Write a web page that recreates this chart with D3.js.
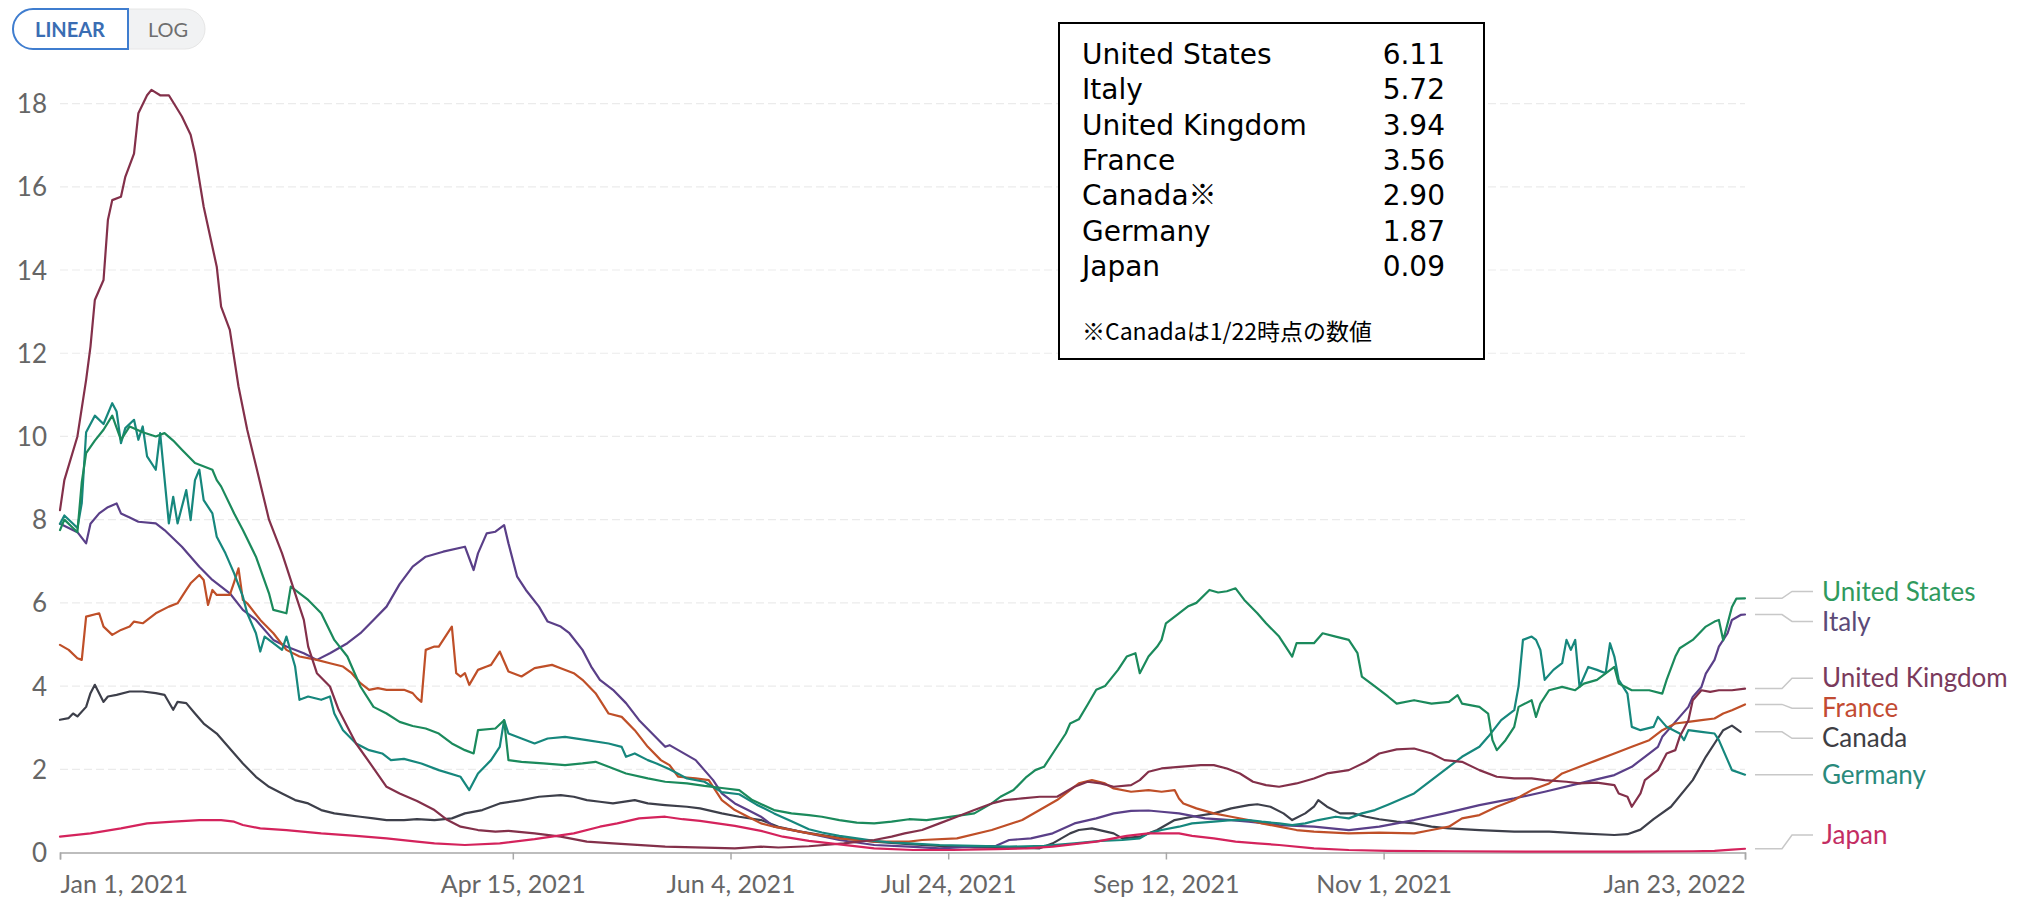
<!DOCTYPE html>
<html><head><meta charset="utf-8">
<script src="https://cdn.jsdelivr.net/npm/d3@7"></script>
<style>
html,body{margin:0;padding:0;background:#fff;}
svg{display:block;}
</style></head>
<body>
<svg id="chart" width="2025" height="901"></svg>
<script>
// ---------- DATA ----------
const startDate = "2021-01-01";
const endDate = "2022-01-23";
const countries = ["United States","Italy","United Kingdom","France","Canada","Germany","Japan"];
const yTicks = [0,2,4,6,8,10,12,14,16,18];
const xTickDates = ["2021-01-01","2021-04-15","2021-06-04","2021-07-24","2021-09-12","2021-11-01","2022-01-23"];
const tableNames = ["United States","Italy","United Kingdom","France","Canada※","Germany","Japan"];
const tableValues = ["6.11","5.72","3.94","3.56","2.90","1.87","0.09"];
const tableNote = "※Canadaは1/22時点の数値";
const scaleButtons = ["LINEAR","LOG"];

// [days since startDate, daily deaths per million (7-day avg)]
const usSeries = [[0,7.75],[1,8.0],[3,7.8],[4,7.7],[5,8.9],[6,9.6],[8,9.9],[10,10.16],[12,10.5],[14,9.92],[16,10.24],[19,10.1],[22,10.0],[24,10.08],[26,9.9],[28,9.68],[31,9.36],[35,9.2],[36,8.95],[37,8.8],[40,8.15],[42,7.75],[45,7.11],[48,6.23],[49,5.83],[52,5.75],[53,6.39],[57,6.07],[60,5.75],[63,5.11],[66,4.71],[69,3.99],[72,3.5],[75,3.34],[78,3.14],[81,3.04],[84,2.98],[87,2.86],[90,2.62],[93,2.46],[95,2.38],[96,2.94],[100,2.98],[102,3.18],[103,2.22],[106,2.18],[111,2.14],[116,2.1],[120,2.14],[123,2.18],[126,2.06],[130,1.9],[135,1.78],[139,1.7],[144,1.66],[148,1.6],[152,1.55],[156,1.5],[159,1.26],[164,1.02],[168,0.94],[172,0.9],[175,0.86],[179,0.78],[183,0.72],[187,0.7],[191,0.74],[195,0.8],[199,0.78],[202,0.82],[206,0.88],[210,0.94],[214,1.18],[216,1.34],[219,1.5],[222,1.82],[224,1.98],[226,2.06],[228,2.38],[231,2.86],[232,3.1],[234,3.2],[236,3.55],[238,3.91],[240,4.0],[243,4.39],[245,4.71],[247,4.79],[248,4.31],[250,4.71],[252,4.95],[253,5.11],[254,5.51],[257,5.75],[259,5.91],[261,6.0],[264,6.31],[266,6.25],[268,6.28],[270,6.35],[272,6.07],[275,5.75],[277,5.51],[280,5.19],[283,4.71],[284,5.03],[288,5.03],[290,5.27],[293,5.19],[296,5.11],[298,4.79],[299,4.23],[302,3.99],[305,3.75],[307,3.58],[311,3.66],[315,3.58],[319,3.62],[321,3.78],[322,3.58],[326,3.5],[328,3.34],[329,2.7],[330,2.46],[332,2.7],[334,3.02],[335,3.5],[338,3.66],[339,3.26],[340,3.58],[342,3.9],[345,3.98],[348,3.9],[350,4.06],[353,4.15],[357,4.46],[358,4.06],[361,3.9],[365,3.9],[368,3.82],[369,4.15],[371,4.71],[372,4.91],[375,5.11],[378,5.43],[380,5.55],[381,5.59],[382,5.1],[384,5.9],[385,6.1],[387,6.11]];

const italySeries = [[0,7.9],[2,7.8],[4,7.7],[6,7.43],[7,7.9],[9,8.15],[11,8.3],[13,8.39],[14,8.15],[16,8.05],[18,7.95],[22,7.91],[24,7.75],[28,7.35],[32,6.87],[35,6.55],[39,6.23],[42,5.83],[45,5.59],[49,5.11],[52,4.95],[56,4.79],[59,4.63],[62,4.79],[66,5.03],[69,5.27],[72,5.59],[75,5.91],[78,6.45],[81,6.87],[84,7.11],[88,7.23],[93,7.35],[95,6.79],[96,7.19],[98,7.67],[100,7.71],[102,7.87],[103,7.43],[105,6.63],[107,6.31],[110,5.91],[112,5.55],[115,5.43],[117,5.27],[120,4.87],[122,4.47],[124,4.15],[127,3.91],[130,3.59],[133,3.18],[136,2.86],[139,2.54],[140,2.58],[142,2.46],[146,2.22],[148,1.98],[150,1.74],[152,1.42],[155,1.18],[158,1.02],[161,0.86],[164,0.62],[172,0.46],[179,0.3],[187,0.18],[195,0.14],[202,0.1],[210,0.14],[215,0.16],[218,0.3],[223,0.34],[228,0.46],[233,0.7],[238,0.82],[242,0.94],[246,1.0],[250,1.01],[253,0.98],[257,0.94],[263,0.82],[269,0.78],[273,0.74],[280,0.66],[288,0.62],[296,0.54],[303,0.62],[311,0.78],[318,0.94],[326,1.14],[334,1.3],[341,1.46],[349,1.66],[357,1.86],[361,2.06],[364,2.3],[367,2.54],[368,2.78],[370,3.02],[372,3.26],[374,3.5],[375,3.74],[377,3.98],[378,4.3],[380,4.63],[381,4.95],[383,5.27],[384,5.59],[386,5.71],[387,5.72]];

const ukSeries = [[0,8.23],[1,8.95],[4,10.0],[6,11.36],[7,12.16],[8,13.28],[10,13.76],[11,15.2],[12,15.68],[14,15.76],[15,16.24],[17,16.8],[18,17.77],[20,18.2],[21,18.33],[23,18.2],[25,18.2],[28,17.69],[30,17.25],[31,16.8],[33,15.52],[36,14.08],[37,13.12],[39,12.56],[41,11.2],[43,10.16],[45,9.3],[48,8.0],[51,7.19],[52,6.87],[54,6.23],[56,5.59],[57,4.95],[59,4.31],[62,3.99],[64,3.43],[66,3.02],[68,2.62],[72,2.03],[75,1.58],[78,1.42],[82,1.24],[86,1.02],[89,0.78],[92,0.62],[96,0.54],[100,0.5],[103,0.52],[109,0.46],[115,0.38],[121,0.26],[127,0.22],[139,0.14],[155,0.1],[161,0.14],[165,0.12],[172,0.15],[180,0.22],[187,0.3],[191,0.38],[194,0.46],[198,0.54],[202,0.7],[206,0.86],[210,1.02],[214,1.18],[217,1.26],[221,1.3],[225,1.34],[229,1.34],[233,1.58],[236,1.7],[239,1.66],[242,1.58],[246,1.62],[248,1.74],[250,1.94],[253,2.02],[257,2.06],[262,2.1],[265,2.1],[268,2.02],[271,1.9],[274,1.7],[277,1.62],[280,1.58],[284,1.66],[288,1.78],[291,1.9],[296,1.98],[300,2.18],[303,2.38],[307,2.48],[311,2.5],[315,2.38],[318,2.22],[322,2.18],[326,1.98],[330,1.82],[334,1.78],[338,1.78],[341,1.74],[346,1.7],[349,1.66],[353,1.68],[357,1.62],[358,1.42],[360,1.34],[361,1.1],[363,1.42],[364,1.74],[366,1.9],[367,1.98],[369,2.38],[371,2.46],[372,2.78],[374,3.18],[375,3.66],[377,3.9],[379,3.86],[381,3.9],[384,3.9],[387,3.94]];

const franceSeries = [[0,4.99],[2,4.87],[4,4.67],[5,4.63],[6,5.67],[9,5.75],[10,5.43],[12,5.23],[14,5.35],[16,5.43],[17,5.55],[19,5.51],[22,5.75],[25,5.91],[27,5.99],[29,6.31],[30,6.47],[32,6.67],[33,6.55],[34,5.95],[35,6.31],[36,6.19],[39,6.19],[40,6.5],[41,6.83],[42,6.07],[43,5.99],[46,5.59],[49,5.27],[52,4.87],[55,4.71],[59,4.63],[62,4.55],[65,4.47],[67,4.31],[69,4.07],[71,3.91],[73,3.95],[75,3.91],[79,3.91],[81,3.83],[82,3.71],[83,3.62],[84,4.87],[86,4.95],[87,4.95],[90,5.43],[91,4.31],[92,4.23],[93,4.31],[94,4.03],[96,4.39],[98,4.47],[99,4.51],[101,4.83],[102,4.59],[103,4.35],[106,4.23],[109,4.43],[113,4.51],[115,4.43],[118,4.31],[120,4.15],[123,3.83],[126,3.34],[129,3.26],[132,2.94],[135,2.54],[138,2.22],[140,2.1],[142,1.82],[146,1.78],[149,1.74],[152,1.26],[155,1.02],[158,0.86],[161,0.7],[164,0.62],[172,0.46],[179,0.34],[187,0.26],[195,0.26],[198,0.3],[206,0.34],[214,0.54],[221,0.78],[225,1.02],[229,1.26],[232,1.5],[234,1.66],[237,1.74],[240,1.66],[242,1.54],[246,1.46],[250,1.5],[253,1.46],[256,1.5],[257,1.3],[258,1.18],[261,1.06],[265,0.94],[269,0.86],[273,0.78],[276,0.7],[280,0.62],[284,0.54],[288,0.5],[296,0.46],[303,0.48],[311,0.46],[315,0.54],[319,0.62],[322,0.82],[326,0.9],[330,1.1],[334,1.26],[338,1.5],[342,1.66],[345,1.9],[349,2.06],[353,2.22],[357,2.38],[361,2.54],[365,2.7],[368,2.94],[371,3.1],[374,3.14],[377,3.18],[380,3.22],[382,3.34],[384,3.42],[387,3.56]];

const canadaSeries = [[0,3.19],[2,3.23],[3,3.34],[4,3.27],[6,3.5],[7,3.83],[8,4.03],[10,3.62],[11,3.75],[13,3.79],[16,3.87],[19,3.87],[22,3.83],[24,3.79],[26,3.43],[27,3.62],[29,3.59],[31,3.34],[33,3.1],[36,2.86],[38,2.62],[40,2.38],[42,2.14],[45,1.82],[48,1.58],[51,1.42],[54,1.26],[57,1.18],[60,1.02],[63,0.94],[66,0.9],[69,0.86],[72,0.82],[75,0.78],[79,0.78],[82,0.8],[86,0.78],[90,0.82],[93,0.94],[97,1.02],[101,1.18],[106,1.26],[110,1.34],[115,1.38],[118,1.34],[121,1.26],[124,1.22],[127,1.18],[132,1.26],[135,1.18],[139,1.14],[144,1.1],[147,1.06],[152,0.94],[156,0.86],[161,0.78],[165,0.62],[170,0.5],[175,0.42],[180,0.34],[187,0.26],[195,0.2],[202,0.16],[210,0.12],[218,0.12],[225,0.1],[228,0.22],[232,0.46],[234,0.54],[237,0.58],[242,0.46],[244,0.34],[248,0.38],[252,0.54],[256,0.78],[260,0.86],[265,0.94],[269,1.06],[273,1.14],[275,1.16],[278,1.1],[281,0.94],[283,0.78],[286,0.94],[288,1.1],[289,1.26],[291,1.1],[294,0.94],[297,0.94],[300,0.86],[303,0.8],[307,0.74],[311,0.7],[315,0.62],[319,0.58],[326,0.54],[334,0.5],[342,0.5],[349,0.46],[357,0.42],[360,0.44],[363,0.55],[366,0.8],[370,1.1],[375,1.74],[378,2.3],[380,2.62],[382,2.94],[384,3.05],[386,2.9]];

const germanySeries = [[0,7.9],[1,8.1],[3,7.9],[4,7.8],[5,8.4],[6,10.1],[8,10.5],[10,10.3],[12,10.8],[13,10.6],[14,9.84],[15,10.2],[17,10.4],[18,9.92],[19,10.24],[20,9.52],[22,9.2],[23,10.08],[25,7.91],[26,8.55],[27,7.91],[29,8.71],[30,7.99],[31,8.95],[32,9.2],[33,8.47],[35,8.15],[36,7.59],[38,7.19],[40,6.71],[42,6.15],[43,5.75],[45,5.27],[46,4.83],[47,5.19],[49,5.03],[51,4.87],[52,5.19],[54,4.47],[55,3.67],[57,3.75],[60,3.67],[62,3.75],[63,3.34],[65,2.94],[68,2.62],[71,2.46],[74,2.38],[76,2.22],[79,2.25],[83,2.14],[87,1.98],[92,1.82],[94,1.5],[96,1.9],[99,2.22],[101,2.54],[102,3.18],[103,2.86],[106,2.74],[109,2.62],[112,2.74],[116,2.78],[121,2.7],[126,2.62],[129,2.54],[130,2.3],[132,2.38],[135,2.22],[137,2.14],[140,2.0],[144,1.78],[148,1.7],[152,1.45],[156,1.4],[160,1.15],[164,0.94],[168,0.75],[172,0.56],[175,0.48],[179,0.4],[183,0.34],[187,0.28],[191,0.24],[195,0.22],[202,0.18],[210,0.16],[218,0.14],[226,0.16],[233,0.22],[239,0.28],[244,0.3],[248,0.34],[250,0.46],[253,0.54],[257,0.62],[260,0.7],[265,0.74],[269,0.78],[273,0.78],[276,0.74],[280,0.7],[283,0.66],[286,0.7],[289,0.78],[293,0.86],[296,0.82],[299,0.94],[302,1.02],[305,1.15],[311,1.42],[318,1.98],[322,2.3],[326,2.54],[328,2.78],[331,3.18],[334,3.42],[335,4.0],[336,5.11],[338,5.19],[339,5.11],[340,4.87],[341,4.15],[343,4.39],[345,4.55],[346,5.11],[347,4.87],[348,5.11],[349,3.98],[351,4.46],[353,4.39],[355,4.31],[356,5.03],[357,4.71],[358,4.15],[360,3.82],[361,3.02],[363,2.94],[366,3.02],[367,3.26],[369,3.02],[372,2.86],[373,2.7],[374,2.94],[377,2.9],[380,2.86],[381,2.7],[383,2.22],[384,1.98],[387,1.87]];

const japanSeries = [[0,0.38],[7,0.46],[14,0.58],[20,0.7],[26,0.74],[32,0.78],[37,0.78],[40,0.74],[42,0.66],[46,0.58],[52,0.54],[60,0.46],[68,0.4],[75,0.34],[82,0.26],[86,0.22],[93,0.18],[101,0.22],[109,0.32],[118,0.46],[124,0.62],[128,0.7],[133,0.82],[139,0.86],[143,0.8],[147,0.76],[155,0.64],[161,0.52],[166,0.38],[172,0.28],[177,0.22],[187,0.1],[196,0.06],[205,0.06],[215,0.08],[222,0.1],[228,0.14],[238,0.26],[245,0.4],[250,0.46],[257,0.46],[260,0.4],[265,0.34],[270,0.26],[275,0.22],[280,0.18],[288,0.1],[296,0.06],[305,0.04],[320,0.03],[340,0.02],[360,0.02],[375,0.03],[380,0.04],[384,0.07],[387,0.09]];

const seriesData = [usSeries, italySeries, ukSeries, franceSeries, canadaSeries, germanySeries, japanSeries];
const lineColors = ["#1b8a5c","#5a3f88","#83304a","#bf4f28","#3d3f4a","#16877d","#d4235c"];
const labelColors = ["#2f9a5e","#5b4a78","#7a3a5c","#c24b32","#3e3e44","#2a8a7c","#c32d62"];
const drawOrder = ["Canada","Italy","France","Germany","United States","United Kingdom","Japan"];

// ---------- CHART ----------
const svg = d3.select("#chart");
const parse = d3.utcParse("%Y-%m-%d");
const t0 = parse(startDate);
const x = d3.scaleUtc().domain([t0, parse(endDate)]).range([60, 1745]);
const y = d3.scaleLinear().domain([0, 18]).range([852.5, 103.6]);
const FONT = "Lato, 'Noto Sans', sans-serif";

// grid
svg.append("g").selectAll("line").data(yTicks.filter(d => d > 0)).join("line")
  .attr("x1", x.range()[0]).attr("x2", x.range()[1])
  .attr("y1", d => y(d)).attr("y2", d => y(d))
  .attr("stroke", "#ebebeb").attr("stroke-width", 1.2).attr("stroke-dasharray", "8,4");

// y axis labels
const yAxis = d3.axisLeft(y).tickValues(yTicks).tickSize(0).tickPadding(0).tickFormat(d3.format("d"));
const gy = svg.append("g").attr("transform", "translate(47,0)").call(yAxis);
gy.select(".domain").remove();
gy.selectAll("text").attr("font-family", FONT).attr("font-size", 26).attr("fill", "#666").attr("dy", "0.35em");

// x axis
const xAxis = d3.axisBottom(x).tickValues(xTickDates.map(parse)).tickSize(7).tickFormat(d3.utcFormat("%b %-d, %Y"));
const gx = svg.append("g").attr("transform", `translate(0,${y(0)})`).call(xAxis);
gx.select(".domain").attr("stroke", "#a8a8a8").attr("stroke-width", 1.5);
gx.selectAll(".tick line").attr("stroke", "#a8a8a8").attr("stroke-width", 1.5);
gx.selectAll("text").attr("font-family", FONT).attr("font-size", 25).attr("fill", "#666").attr("y", 23)
  .attr("text-anchor", (d, i, n) => i === 0 ? "start" : (i === n.length - 1 ? "end" : "middle"));

// lines
const line = d3.line()
  .x(d => x(d3.utcDay.offset(t0, d[0])))
  .y(d => y(d[1]));
const series = countries.map((c, i) => ({name: c, values: seriesData[i], color: lineColors[i], labelColor: labelColors[i]}));
const ordered = drawOrder.map(n => series.find(s => s.name === n));
svg.append("g").selectAll("path").data(ordered).join("path")
  .attr("d", s => line(s.values))
  .attr("fill", "none").attr("stroke", s => s.color).attr("stroke-width", 2.2)
  .attr("stroke-linejoin", "round").attr("stroke-linecap", "round");

// end labels with collision avoidance
const ends = series.map(s => { const last = s.values[s.values.length - 1]; return {s, yEnd: y(last[1]), yL: y(last[1])}; });
const sorted = ends.slice().sort((a, b) => a.yEnd - b.yEnd);
const gap = 30;
for (let it = 0; it < 200; it++) {
  let moved = false;
  for (let i = 0; i < sorted.length - 1; i++) {
    const a = sorted[i], b = sorted[i + 1];
    const d = b.yL - a.yL;
    if (d < gap - 0.01) { const m = (gap - d) / 2; a.yL -= m; b.yL += m; moved = true; }
  }
  sorted.forEach(e => { if (e.yL > 835) e.yL = 835; });
  if (!moved) break;
}
const lab = svg.append("g");
ends.forEach(e => {
  lab.append("path")
    .attr("d", `M1755,${e.yEnd}H1782L1792,${e.yL}H1813`)
    .attr("fill", "none").attr("stroke", "#c8c8c8").attr("stroke-width", 1.5);
  lab.append("text").attr("x", 1822).attr("y", e.yL).attr("dy", "0.35em")
    .attr("font-family", FONT).attr("font-size", 26).attr("fill", e.s.labelColor).text(e.s.name);
});

// LINEAR / LOG toggle
const tg = svg.append("g");
tg.append("rect").attr("x", 13).attr("y", 9).attr("width", 192).attr("height", 40).attr("rx", 20)
  .attr("fill", "#f1f2f3").attr("stroke", "#e6e6e6").attr("stroke-width", 1);
tg.append("path").attr("d", "M128,9H33A20,20 0 0 0 33,49H128Z")
  .attr("fill", "#fff").attr("stroke", "#3f7dcf").attr("stroke-width", 2);
tg.append("text").attr("x", 70).attr("y", 36.5).attr("text-anchor", "middle")
  .attr("font-family", FONT).attr("font-weight", 700).attr("font-size", 20).attr("fill", "#3a6db3").text(scaleButtons[0]);
tg.append("text").attr("x", 168).attr("y", 36.5).attr("text-anchor", "middle")
  .attr("font-family", FONT).attr("font-size", 20).attr("fill", "#6e6e6e").text(scaleButtons[1]);

// value table box
const tb = svg.append("g");
tb.append("rect").attr("x", 1059).attr("y", 23).attr("width", 425).attr("height", 336)
  .attr("fill", "#fff").attr("stroke", "#000").attr("stroke-width", 2);
const TF = "'DejaVu Sans', sans-serif";
const CJK = "'Noto Sans CJK JP', sans-serif";
tableNames.forEach((n, i) => {
  const by = 64 + i * 35.3;
  const t = tb.append("text").attr("x", 1082).attr("y", by).attr("font-family", TF).attr("font-size", 28).attr("fill", "#000");
  n.split(/(※)/).filter(p => p.length).forEach(p => {
    const sp = t.append("tspan").text(p);
    if (p === "※") sp.attr("font-family", CJK).attr("font-weight", 300);
  });
  tb.append("text").attr("x", 1445).attr("y", by).attr("text-anchor", "end").attr("font-family", TF).attr("font-size", 28).attr("fill", "#000").text(tableValues[i]);
});
tb.append("text").attr("x", 1082).attr("y", 340).attr("font-family", CJK).attr("font-size", 23).attr("fill", "#000").text(tableNote);
</script>
</body></html>
